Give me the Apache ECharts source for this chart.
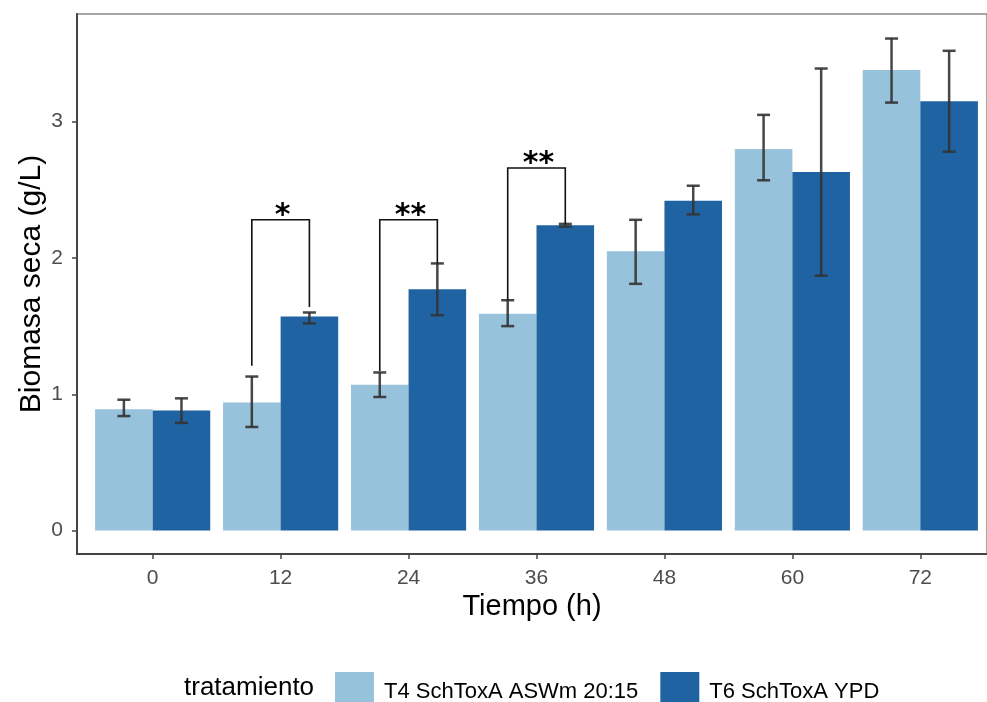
<!DOCTYPE html>
<html>
<head>
<meta charset="utf-8">
<script src="https://cdn.jsdelivr.net/npm/echarts@6/dist/echarts.min.js"></script>
<style>
html,body{margin:0;padding:0;background:#fff;}
#chart{width:987px;height:702px;}
</style>
</head>
<body>
<div id="chart"></div>
<script>
// ---- data ----
var categories = ['0', '12', '24', '36', '48', '60', '72'];
var seriesNames = ['T4 SchToxA ASWm 20:15', 'T6 SchToxA YPD'];
var t4Mean = [0.89, 0.94, 1.07, 1.59, 2.05, 2.80, 3.38];
var t4Low  = [0.84, 0.76, 0.98, 1.50, 1.81, 2.57, 3.14];
var t4High = [0.96, 1.13, 1.16, 1.69, 2.28, 3.05, 3.61];
var t6Mean = [0.88, 1.57, 1.77, 2.24, 2.42, 2.63, 3.15];
var t6Low  = [0.79, 1.52, 1.58, 2.23, 2.32, 1.87, 2.78];
var t6High = [0.97, 1.60, 1.96, 2.25, 2.53, 3.39, 3.52];
var sigCats   = [1, 2, 3];
var sigLeft   = [1.21, 1.17, 1.69];
var sigTop    = [2.28, 2.28, 2.66];
var sigRight  = [1.64, 1.96, 2.25];
var sigLabels = ['*', '**', '**'];
var yTicks = [0, 1, 2, 3];

// ---- style ----
var FONT = 'Liberation Sans, Arial, sans-serif';
var C_LIGHT = '#96C2DB';
var C_DARK = '#1F63A3';
var Y_MIN = -0.172, Y_MAX = 3.79;

var errData = [];
for (var i = 0; i < categories.length; i++) {
  errData.push([i, t4Low[i], t4High[i], 0]);
  errData.push([i, t6Low[i], t6High[i], 1]);
}
var sigData = sigCats.map(function (c, k) { return [c, sigLeft[k], sigTop[k], sigRight[k], k]; });

var chart = echarts.init(document.getElementById('chart'), null, { renderer: 'canvas' });

var gridTop = 14, gridBottom = 148;

var option = {
  animation: false,
  backgroundColor: '#fff',
  textStyle: { fontFamily: FONT },
  title: {
    text: 'tratamiento',
    left: 184, top: 675, padding: 0,
    textStyle: { fontFamily: FONT, fontSize: 26, fontWeight: 'normal', color: '#000' }
  },
  legend: {
    left: 335, top: 672, padding: 0,
    itemWidth: 39, itemHeight: 39,
    itemGap: 22,
    icon: 'rect',
    data: seriesNames,
    textStyle: { fontFamily: FONT, fontSize: 22, color: '#000', padding: [0, 0, 0, 5] }
  },
  grid: [
    { left: 77, right: -10, top: gridTop, bottom: gridBottom, show: true, borderColor: '#8a8a8a', borderWidth: 1.5, containLabel: false },
    { left: 88.7, right: 2.7, top: gridTop, bottom: gridBottom, containLabel: false }
  ],
  xAxis: [
    {
      gridIndex: 0, type: 'value', min: 0, max: 1,
      axisLine: { show: true, onZero: false, lineStyle: { color: '#444', width: 2 } },
      axisTick: { show: false }, axisLabel: { show: false }, splitLine: { show: false },
      name: 'Tiempo (h)', nameLocation: 'middle', nameGap: 38, nameMoveOverlap: false,
      nameTextStyle: { fontFamily: FONT, fontSize: 29, color: '#000' }
    },
    {
      gridIndex: 1, type: 'category', data: categories, position: 'bottom',
      axisLine: { show: false, onZero: false },
      axisTick: { show: true, alignWithLabel: true, length: 5, lineStyle: { color: '#444', width: 1.5 } },
      axisLabel: { fontFamily: FONT, fontSize: 21, color: '#4D4D4D', margin: 14 },
      splitLine: { show: false }
    }
  ],
  yAxis: [
    {
      gridIndex: 0, type: 'value', min: Y_MIN, max: Y_MAX,
      axisLine: { show: true, onZero: false, lineStyle: { color: '#444', width: 2 } },
      axisTick: { show: true, length: 5, customValues: yTicks, lineStyle: { color: '#444', width: 1.5 } },
      axisLabel: { show: true, customValues: yTicks, fontFamily: FONT, fontSize: 21, color: '#4D4D4D', margin: 14 },
      splitLine: { show: false },
      name: 'Biomasa seca (g/L)', nameLocation: 'middle', nameGap: 30, nameMoveOverlap: false,
      nameTextStyle: { fontFamily: FONT, fontSize: 30, color: '#000' }
    },
    {
      gridIndex: 1, type: 'value', min: Y_MIN, max: Y_MAX, show: false,
      splitLine: { show: false }
    }
  ],
  series: [
    {
      name: seriesNames[0], type: 'bar', xAxisIndex: 1, yAxisIndex: 1,
      data: t4Mean, barGap: '0%', barCategoryGap: '10%',
      itemStyle: { color: C_LIGHT }
    },
    {
      name: seriesNames[1], type: 'bar', xAxisIndex: 1, yAxisIndex: 1,
      data: t6Mean, barGap: '0%', barCategoryGap: '10%',
      itemStyle: { color: C_DARK }
    },
    {
      type: 'custom', xAxisIndex: 1, yAxisIndex: 1, data: errData, z: 5, silent: true,
      renderItem: function (params, api) {
        var band = api.size([1, 0])[0];
        var off = (api.value(3) === 0 ? -1 : 1) * band * 0.9 / 4;
        var lo = api.coord([api.value(0), api.value(1)]);
        var hi = api.coord([api.value(0), api.value(2)]);
        var x = lo[0] + off;
        var hw = 6.5;
        var st = { stroke: '#333333', lineWidth: 2.5, opacity: 0.9 };
        return {
          type: 'group',
          children: [
            { type: 'line', shape: { x1: x, y1: lo[1], x2: x, y2: hi[1] }, style: st },
            { type: 'line', shape: { x1: x - hw, y1: lo[1], x2: x + hw, y2: lo[1] }, style: st },
            { type: 'line', shape: { x1: x - hw, y1: hi[1], x2: x + hw, y2: hi[1] }, style: st }
          ]
        };
      }
    },
    {
      type: 'custom', xAxisIndex: 1, yAxisIndex: 1, data: sigData, z: 6, silent: true,
      renderItem: function (params, api) {
        var band = api.size([1, 0])[0];
        var off = band * 0.9 / 4;
        var c = api.value(0);
        var pl = api.coord([c, api.value(1)]);
        var pt = api.coord([c, api.value(2)]);
        var pr = api.coord([c, api.value(3)]);
        var xl = pl[0] - off, xr = pl[0] + off;
        return {
          type: 'group',
          children: [
            { type: 'polyline', shape: { points: [[xl, pl[1]], [xl, pt[1]], [xr, pt[1]], [xr, pr[1]]] },
              style: { stroke: '#111', lineWidth: 1.6, fill: null } },
            { type: 'text', x: (xl + xr) / 2 + 2, y: pt[1] + 11,
              style: { text: sigLabels[api.value(4)], fontFamily: 'DejaVu Sans, sans-serif', fontSize: 30, fontWeight: 'bold',
                       fill: '#000', align: 'center', verticalAlign: 'bottom' } }
          ]
        };
      }
    }
  ]
};
chart.setOption(option);
</script>
</body>
</html>
